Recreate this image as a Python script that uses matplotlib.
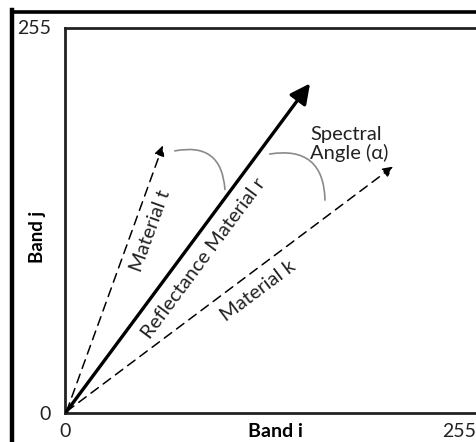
import matplotlib
matplotlib.use('Agg')
import matplotlib.pyplot as plt
from matplotlib.patches import FancyArrowPatch
from matplotlib.lines import Line2D

plt.rcParams['font.family'] = ['Lato', 'DejaVu Sans']

# axis range of the two bands and their tick labels
band_ticks = [0, 255]
band_max = 255

# vectors (Band i, Band j)
origin = (1, 1)
material_r = (158.6, 218)
material_t = (63.4, 177)
material_k = (212.3, 163)

# spectral angle arcs: start and end points
arc_t_r = [(69.3, 173), (103.6, 146)]
arc_r_k = [(130.7, 171), (168.3, 139)]

# labels along the vectors: text, vector, fraction along it, offset (pt), angle
vector_labels = [
	('Material t', material_t, 0.70, (11.5, -4.2), 70),
	('Reflectance Material r', material_r, 0.502, (11.0, -8.2), 53.4),
	('Material k', material_k, 0.553, (7.8, -10.4), 36.9),
]

fig = plt.figure(figsize=(4.76, 4.42), dpi=100)
ax = fig.add_axes([65 / 476, 29 / 442, 411 / 476, 385.5 / 442])
ax.set_xlim(0, 266)
ax.set_ylim(0, band_max)

for side in ['left', 'top', 'bottom']:
	ax.spines[side].set_linewidth(2.0)
	ax.spines[side].set_color('#222222')
ax.spines['right'].set_visible(False)

ax.set_xticks(band_ticks)
ax.set_xticklabels([str(t) for t in band_ticks])
ax.set_yticks(band_ticks)
ax.set_yticklabels([str(t) for t in band_ticks])
ax.tick_params(length=0, labelsize=14, colors='#222222')
ax.tick_params(axis='x', pad=7)
ax.tick_params(axis='y', pad=10)

ax.set_xlabel('Band i', fontsize=14, fontweight='bold')
ax.xaxis.set_label_coords(0.511, -0.049)
ax.xaxis.label.set_verticalalignment('center')
ax.set_ylabel('Band j', fontsize=13.5, fontweight='bold')
ax.yaxis.set_label_coords(-0.068, 0.457)
ax.yaxis.label.set_verticalalignment('center')

# thick reference vector
ax.annotate('', xy=material_r, xytext=origin,
	arrowprops=dict(arrowstyle='-|>,head_length=0.8,head_width=0.4', lw=2.4, color='black',
		shrinkA=0, shrinkB=0, mutation_scale=15))
# dashed vectors
for vec in [material_t, material_k]:
	ax.annotate('', xy=vec, xytext=origin,
		arrowprops=dict(arrowstyle='-|>,head_length=0.6,head_width=0.3', lw=1.1, color='black',
			linestyle=(0, (6, 4)), shrinkA=0, shrinkB=0, mutation_scale=10))

# angle arcs
for arc in [arc_t_r, arc_r_k]:
	p = FancyArrowPatch(arc[0], arc[1], arrowstyle='-', connectionstyle='arc3,rad=-0.6',
		color='#8a8a8a', lw=1.2)
	ax.add_patch(p)

ax.text(158.6, 178, 'Spectral\nAngle (\u03b1)', fontsize=14.5, color='#222222', ha='left', va='center',
	linespacing=1.05)

for text, vec, frac, off, ang in vector_labels:
	pos = (origin[0] + frac * (vec[0] - origin[0]), origin[1] + frac * (vec[1] - origin[1]))
	ax.annotate(text, xy=pos, xytext=off, textcoords='offset points', fontsize=14.5,
		rotation=ang, rotation_mode='anchor', ha='center', va='center', color='#222222')

# outer frame of the figure
fig.add_artist(Line2D([12 / 476, 12 / 476], [0, 1 - 10 / 442], transform=fig.transFigure,
	color='black', lw=3.2, solid_capstyle='projecting'))
fig.add_artist(Line2D([12 / 476, 1], [1 - 11.5 / 442, 1 - 11.5 / 442], transform=fig.transFigure,
	color='black', lw=2.6, solid_capstyle='projecting'))

fig.savefig('out.png', dpi=100)
